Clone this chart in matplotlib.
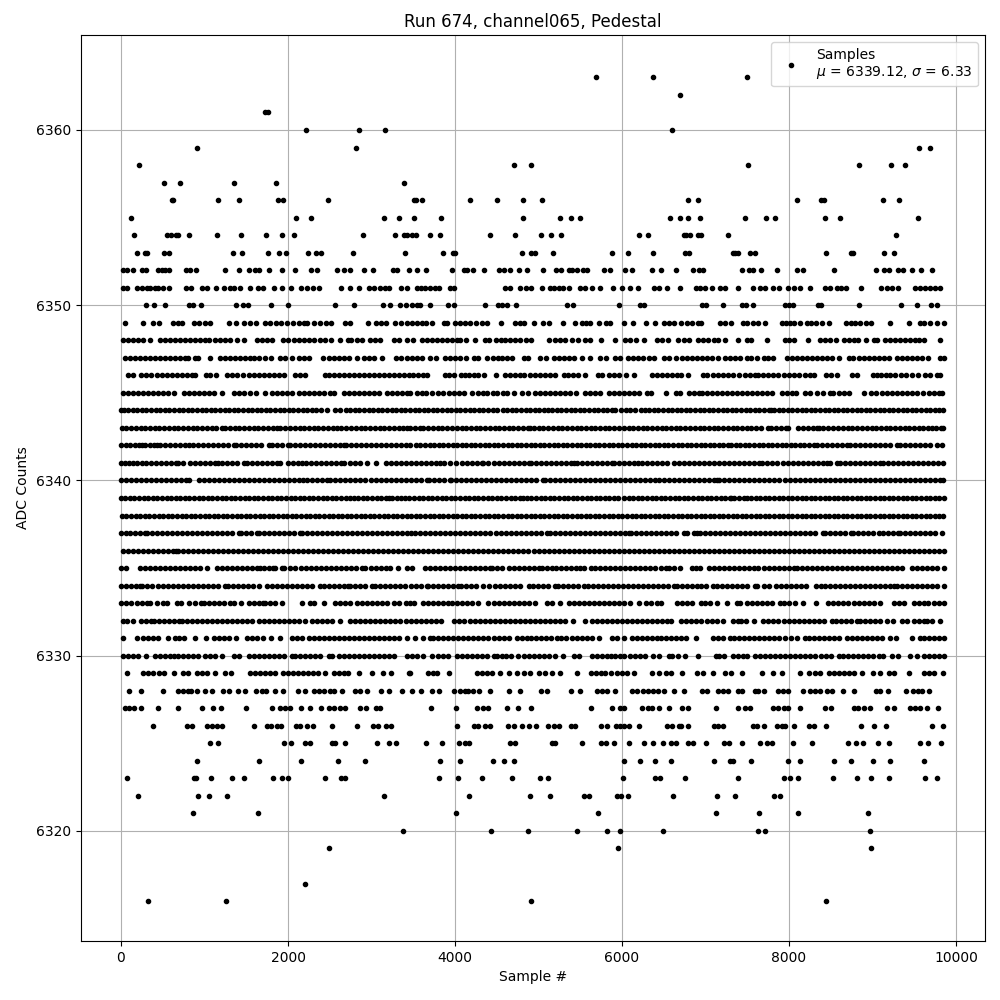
import matplotlib
matplotlib.use('Agg')
import matplotlib.pyplot as plt

# sample numbers, one list per ADC level
x6363 = [5693, 6375, 7501]
x6362 = [6699]
x6361 = [1720, 1760]
x6360 = [2212, 2848, 3160, 6603]
x6359 = [916, 2812, 9561, 9693]
x6358 = [220, 4708, 4912, 7513, 8842, 9226, 9394]
x6357 = [520, 712, 1348, 1852, 3388]
x6356 = [612, 628, 1156, 1408, 1876, 1936, 2476, 3508, 3532, 3604, 4180, 4504, 4816, 5038, 6794, 6914, 8100, 8383, 8423, 9130, 9321]
x6355 = [124, 2092, 2272, 3148, 3328, 3508, 3832, 4816, 5261, 5393, 5501, 6579, 6699, 6786, 6938, 7477, 7729, 7836, 8435, 8615, 9549]
x6354 = [160, 556, 604, 656, 680, 820, 1144, 1432, 1732, 1924, 2068, 2896, 3280, 3388, 3420, 3488, 3528, 3700, 3820, 4420, 4720, 5032, 5148, 5274, 6208, 6315, 6742, 6766, 6818, 6914, 6946, 7273, 9285]
x6353 = [188, 288, 308, 520, 572, 1336, 1444, 1756, 1888, 1972, 2236, 2332, 2392, 2776, 3400, 3856, 3976, 4000, 4804, 4908, 4960, 5178, 5884, 6076, 6375, 6754, 6806, 7325, 7353, 7393, 7537, 7597, 8447, 8738, 8770, 9142, 9262]
x6352 = [20, 68, 148, 256, 300, 448, 488, 528, 580, 780, 828, 900, 1240, 1408, 1528, 1608, 1656, 1768, 1924, 2080, 2276, 2348, 2588, 2676, 2740, 2916, 3016, 3260, 3308, 3448, 3541, 3657, 3969, 4109, 4141, 4221, 4353, 4521, 4589, 4661, 4761, 4861, 5053, 5213, 5269, 5361, 5401, 5461, 5529, 5581, 5789, 5861, 6041, 6121, 6361, 6469, 6645, 6849, 6926, 6966, 7434, 7526, 7574, 7666, 7854, 8094, 8162, 8542, 9042, 9134, 9194, 9302, 9366, 9474, 9578, 9718]
x6351 = [28, 76, 196, 256, 308, 348, 408, 448, 508, 580, 780, 840, 968, 1028, 1136, 1236, 1300, 1356, 1420, 1548, 1636, 1700, 1828, 1928, 2040, 2156, 2228, 2300, 2368, 2640, 2748, 2848, 2968, 3028, 3100, 3156, 3208, 3348, 3428, 3541, 3589, 3641, 3701, 3761, 3813, 3941, 3989, 4601, 4661, 4781, 4853, 4909, 5041, 5133, 5189, 5241, 5293, 5361, 5501, 5561, 5641, 5741, 5889, 6001, 6101, 6193, 6381, 6441, 6541, 6693, 6881, 6934, 6994, 7074, 7174, 7234, 7394, 7574, 7654, 7714, 7806, 7886, 7982, 8062, 8126, 8254, 8434, 8494, 8574, 8622, 8682, 8862, 9102, 9174, 9234, 9302, 9514, 9574, 9634, 9694, 9754, 9806]
x6350 = [300, 400, 532, 820, 868, 964, 1372, 1456, 1520, 1792, 1996, 2560, 2788, 3136, 3220, 3336, 3416, 3481, 3541, 3581, 3705, 3921, 3993, 4365, 4509, 4561, 4621, 4725, 5341, 5409, 5965, 6221, 6269, 6954, 7002, 7214, 7442, 7486, 7574, 7946, 7994, 8046, 8346, 8386, 8834, 9338, 9534, 9702, 9774]
x6349 = [48, 268, 388, 460, 628, 680, 728, 876, 940, 1000, 1060, 1296, 1380, 1476, 1540, 1620, 1728, 1788, 1856, 1916, 1988, 2060, 2128, 2188, 2228, 2316, 2388, 2460, 2520, 2688, 2740, 2956, 3048, 3108, 3168, 3276, 3348, 3428, 3481, 3541, 3601, 3653, 3729, 3869, 3901, 4001, 4061, 4121, 4181, 4253, 4321, 4389, 4553, 4721, 4773, 4829, 4941, 5053, 5121, 5289, 5441, 5521, 5573, 5621, 5721, 5813, 5853, 6021, 6129, 6293, 6393, 6501, 6561, 6621, 6709, 6781, 6841, 6914, 6946, 7174, 7234, 7302, 7446, 7502, 7566, 7634, 7718, 7914, 7966, 8014, 8062, 8126, 8214, 8262, 8326, 8394, 8474, 8686, 8742, 8794, 8854, 8926, 8982, 9214, 9434, 9566, 9622, 9686, 9774, 9858]
x6348 = [28, 88, 148, 208, 268, 348, 468, 528, 588, 648, 708, 768, 828, 888, 948, 1000, 1056, 1128, 1188, 1248, 1308, 1388, 1468, 1628, 1688, 1748, 1808, 1940, 2000, 2068, 2128, 2188, 2248, 2316, 2380, 2448, 2516, 2628, 2716, 2756, 2828, 2888, 2980, 3036, 3096, 3268, 3328, 3421, 3501, 3601, 3661, 3721, 3781, 3841, 3901, 3961, 4021, 4061, 4129, 4245, 4361, 4413, 4493, 4549, 4601, 4661, 4721, 4773, 4853, 4913, 5121, 5201, 5261, 5321, 5401, 5473, 5561, 5621, 5753, 5921, 6041, 6101, 6173, 6261, 6413, 6481, 6553, 6673, 6741, 6801, 6914, 6974, 7034, 7106, 7154, 7234, 7394, 7502, 7546, 7742, 7946, 7994, 8054, 8222, 8366, 8426, 8486, 8562, 8662, 8714, 8774, 8822, 8922, 9014, 9054, 9154, 9214, 9274, 9334, 9394, 9454, 9514, 9554, 9614, 9806]
x6347 = [48, 108, 168, 228, 288, 348, 408, 468, 528, 588, 648, 708, 768, 808, 888, 928, 1060, 1188, 1248, 1308, 1368, 1428, 1488, 1548, 1588, 1656, 1728, 1796, 1900, 1968, 2048, 2128, 2188, 2256, 2416, 2488, 2548, 2608, 2668, 2728, 2828, 2916, 2968, 3028, 3128, 3288, 3348, 3421, 3481, 3541, 3601, 3701, 3769, 3881, 3941, 4001, 4061, 4133, 4229, 4273, 4381, 4449, 4509, 4565, 4621, 4685, 4821, 4873, 5021, 5093, 5181, 5241, 5301, 5361, 5421, 5521, 5613, 5733, 5813, 5913, 5981, 6069, 6129, 6189, 6249, 6321, 6389, 6501, 6561, 6649, 6721, 6781, 6841, 6901, 6954, 7014, 7074, 7154, 7234, 7294, 7354, 7414, 7494, 7542, 7614, 7702, 7754, 7814, 7974, 8034, 8094, 8154, 8214, 8274, 8334, 8394, 8454, 8514, 8594, 8714, 8766, 8834, 8894, 8954, 9014, 9074, 9134, 9194, 9294, 9354, 9414, 9474, 9534, 9594, 9662, 9814, 9855]
x6346 = [88, 140, 236, 296, 356, 428, 488, 548, 608, 668, 728, 788, 848, 888, 1020, 1068, 1140, 1268, 1328, 1388, 1456, 1528, 1588, 1648, 1708, 1768, 1828, 1888, 1956, 2088, 2148, 2208, 2440, 2488, 2548, 2608, 2668, 2728, 2788, 2848, 2908, 2968, 3028, 3088, 3148, 3208, 3268, 3328, 3388, 3448, 3501, 3561, 3613, 3661, 3881, 3933, 3989, 4069, 4121, 4173, 4229, 4281, 4349, 4489, 4593, 4653, 4713, 4773, 4821, 4893, 4953, 5013, 5073, 5133, 5193, 5301, 5349, 5409, 5473, 5561, 5709, 5761, 5841, 5901, 5961, 6053, 6141, 6361, 6421, 6481, 6541, 6601, 6661, 6709, 6789, 6966, 7022, 7086, 7146, 7206, 7274, 7334, 7406, 7474, 7534, 7594, 7634, 7694, 7754, 7814, 7874, 7934, 7994, 8054, 8118, 8194, 8254, 8302, 8442, 8502, 8574, 8754, 8814, 9002, 9054, 9102, 9162, 9214, 9274, 9342, 9406, 9474, 9542, 9634, 9694, 9774, 9814]
x6345 = [20, 88, 148, 208, 268, 328, 388, 448, 508, 568, 640, 756, 816, 876, 936, 996, 1056, 1116, 1208, 1356, 1408, 1468, 1548, 1616, 1720, 1808, 1868, 1928, 1988, 2048, 2128, 2188, 2248, 2308, 2368, 2428, 2500, 2548, 2668, 2728, 2788, 2848, 2908, 2968, 3028, 3088, 3180, 3240, 3300, 3360, 3420, 3461, 3541, 3601, 3653, 3725, 3801, 3861, 3933, 3989, 4053, 4109, 4201, 4281, 4333, 4389, 4449, 4501, 4573, 4621, 4709, 4801, 4869, 4953, 5013, 5073, 5141, 5201, 5261, 5321, 5381, 5453, 5553, 5613, 5681, 5741, 5841, 5901, 5961, 6021, 6081, 6141, 6201, 6301, 6349, 6521, 6641, 6693, 6801, 6861, 6921, 6954, 7014, 7074, 7134, 7194, 7262, 7322, 7382, 7442, 7502, 7562, 7622, 7682, 7742, 7802, 7914, 7974, 8034, 8086, 8194, 8254, 8334, 8406, 8486, 8526, 8594, 8654, 8714, 8894, 8982, 9046, 9114, 9174, 9234, 9294, 9354, 9414, 9474, 9534, 9602, 9674, 9734, 9794, 9834]
x6344 = [0, 30, 85, 140, 195, 250, 305, 360, 415, 470, 525, 580, 635, 690, 745, 800, 855, 910, 965, 1020, 1075, 1130, 1185, 1240, 1295, 1350, 1405, 1460, 1515, 1570, 1625, 1680, 1735, 1790, 1845, 1900, 1955, 2010, 2065, 2120, 2175, 2230, 2285, 2340, 2400, 2468, 2560, 2620, 2690, 2745, 2800, 2855, 2910, 2965, 3020, 3075, 3130, 3185, 3240, 3295, 3350, 3405, 3460, 3515, 3570, 3625, 3680, 3735, 3790, 3845, 3900, 3955, 4010, 4065, 4120, 4175, 4230, 4285, 4340, 4395, 4450, 4505, 4570, 4625, 4680, 4735, 4790, 4845, 4900, 4955, 5010, 5060, 5110, 5165, 5220, 5275, 5330, 5385, 5440, 5495, 5550, 5605, 5660, 5715, 5770, 5825, 5880, 5915, 5990, 6045, 6100, 6155, 6230, 6270, 6325, 6380, 6435, 6490, 6545, 6600, 6655, 6710, 6765, 6820, 6875, 6930, 6985, 7040, 7095, 7150, 7205, 7260, 7315, 7370, 7425, 7480, 7535, 7590, 7645, 7700, 7755, 7790, 7820, 7875, 7930, 7985, 8040, 8095, 8150, 8205, 8260, 8315, 8370, 8425, 8480, 8535, 8590, 8645, 8700, 8755, 8810, 8865, 8920, 8975, 9030, 9085, 9140, 9195, 9250, 9305, 9360, 9415, 9470, 9525, 9580, 9635, 9690, 9745, 9800, 9850]
x6343 = [8, 65, 120, 178, 235, 290, 348, 405, 460, 518, 575, 630, 688, 745, 800, 858, 915, 970, 1028, 1085, 1140, 1208, 1248, 1305, 1360, 1418, 1475, 1530, 1588, 1645, 1700, 1758, 1815, 1868, 1910, 1968, 2025, 2080, 2138, 2195, 2250, 2308, 2365, 2420, 2478, 2535, 2590, 2640, 2700, 2758, 2815, 2870, 2928, 2985, 3040, 3098, 3155, 3210, 3268, 3325, 3380, 3420, 3461, 3521, 3581, 3621, 3680, 3738, 3795, 3850, 3908, 3965, 4020, 4078, 4135, 4190, 4248, 4305, 4360, 4418, 4475, 4530, 4588, 4645, 4700, 4758, 4815, 4870, 4901, 4941, 5000, 5058, 5115, 5170, 5228, 5285, 5340, 5398, 5455, 5510, 5568, 5625, 5680, 5738, 5795, 5850, 5908, 5965, 6020, 6078, 6135, 6190, 6248, 6305, 6360, 6418, 6475, 6530, 6588, 6645, 6700, 6758, 6815, 6870, 6928, 6985, 7040, 7098, 7155, 7210, 7268, 7325, 7380, 7438, 7495, 7550, 7608, 7665, 7750, 7790, 7850, 7908, 7965, 7990, 8110, 8170, 8228, 8285, 8340, 8354, 8410, 8470, 8530, 8590, 8648, 8705, 8760, 8818, 8875, 8930, 8988, 9045, 9100, 9158, 9215, 9270, 9328, 9385, 9440, 9498, 9555, 9610, 9668, 9710, 9760, 9820, 9850]
x6342 = [0, 55, 110, 165, 220, 250, 290, 350, 400, 430, 470, 530, 590, 650, 710, 770, 820, 860, 920, 980, 1040, 1100, 1160, 1220, 1280, 1350, 1380, 1440, 1500, 1560, 1620, 1680, 1770, 1810, 1870, 1930, 2000, 2020, 2080, 2140, 2200, 2260, 2320, 2380, 2440, 2500, 2560, 2620, 2670, 2690, 2750, 2810, 2870, 2930, 2990, 3050, 3110, 3170, 3230, 3290, 3350, 3410, 3461, 3529, 3585, 3640, 3695, 3750, 3805, 3860, 3915, 3970, 4025, 4080, 4135, 4190, 4245, 4300, 4355, 4410, 4465, 4520, 4575, 4630, 4685, 4740, 4795, 4850, 4905, 4960, 5015, 5070, 5125, 5180, 5235, 5290, 5345, 5400, 5455, 5510, 5565, 5620, 5675, 5730, 5785, 5840, 5895, 5950, 6005, 6060, 6115, 6170, 6225, 6280, 6335, 6390, 6445, 6500, 6555, 6610, 6665, 6720, 6775, 6830, 6885, 6940, 6995, 7050, 7105, 7160, 7215, 7270, 7310, 7360, 7415, 7470, 7525, 7580, 7635, 7690, 7745, 7800, 7855, 7910, 7965, 8020, 8075, 8130, 8185, 8240, 8295, 8340, 8394, 8454, 8514, 8574, 8634, 8690, 8734, 8790, 8850, 8910, 8970, 9030, 9090, 9150, 9210, 9290, 9334, 9394, 9454, 9514, 9566, 9626, 9686, 9774, 9838]
x6341 = [0, 48, 100, 148, 196, 248, 296, 356, 416, 476, 536, 596, 656, 688, 740, 828, 888, 948, 1008, 1068, 1128, 1156, 1208, 1268, 1328, 1388, 1468, 1508, 1568, 1628, 1688, 1748, 1808, 1868, 1908, 2000, 2060, 2120, 2168, 2216, 2276, 2336, 2396, 2456, 2516, 2576, 2636, 2668, 2740, 2800, 2860, 2948, 3056, 3168, 3228, 3288, 3348, 3408, 3468, 3533, 3589, 3649, 3709, 3769, 3821, 3869, 3941, 4013, 4081, 4141, 4201, 4261, 4321, 4341, 4401, 4461, 4521, 4581, 4641, 4701, 4761, 4821, 4881, 4909, 4969, 5029, 5089, 5149, 5209, 5269, 5329, 5389, 5421, 5461, 5521, 5581, 5641, 5701, 5761, 5821, 5881, 5901, 5961, 6021, 6081, 6141, 6189, 6241, 6301, 6361, 6421, 6481, 6541, 6621, 6681, 6741, 6801, 6861, 6921, 6981, 7041, 7101, 7161, 7221, 7281, 7341, 7401, 7461, 7521, 7581, 7641, 7674, 7742, 7802, 7862, 7922, 7982, 8046, 8106, 8166, 8226, 8286, 8346, 8406, 8454, 8494, 8574, 8606, 8666, 8726, 8786, 8846, 8906, 8966, 9026, 9094, 9126, 9186, 9246, 9306, 9366, 9426, 9486, 9546, 9606, 9666, 9726, 9786, 9850]
x6340 = [0, 60, 120, 180, 240, 300, 360, 420, 480, 540, 600, 660, 720, 780, 820, 930, 990, 1050, 1110, 1170, 1230, 1290, 1350, 1410, 1470, 1530, 1590, 1650, 1710, 1770, 1830, 1890, 1950, 2010, 2070, 2130, 2180, 2228, 2288, 2348, 2408, 2468, 2508, 2568, 2628, 2688, 2748, 2808, 2868, 2928, 2988, 3048, 3108, 3168, 3228, 3288, 3348, 3408, 3468, 3528, 3588, 3669, 3693, 3753, 3813, 3873, 3941, 3953, 4013, 4073, 4133, 4193, 4253, 4313, 4373, 4433, 4493, 4553, 4613, 4673, 4733, 4793, 4853, 4913, 4973, 5053, 5081, 5141, 5201, 5261, 5321, 5381, 5441, 5501, 5561, 5621, 5681, 5741, 5801, 5861, 5921, 5981, 6041, 6101, 6161, 6221, 6281, 6341, 6401, 6441, 6501, 6561, 6621, 6681, 6741, 6801, 6861, 6921, 6981, 7041, 7101, 7134, 7166, 7226, 7286, 7346, 7406, 7466, 7526, 7586, 7646, 7706, 7766, 7826, 7886, 7946, 8006, 8066, 8126, 8186, 8246, 8306, 8366, 8426, 8486, 8546, 8606, 8666, 8726, 8786, 8846, 8906, 8966, 9026, 9086, 9146, 9206, 9266, 9326, 9386, 9446, 9506, 9566, 9626, 9686, 9746, 9806, 9850]
x6339 = [0, 50, 105, 160, 215, 270, 325, 380, 435, 490, 545, 600, 655, 710, 765, 820, 875, 930, 985, 1040, 1095, 1150, 1205, 1260, 1315, 1370, 1425, 1480, 1535, 1590, 1645, 1700, 1755, 1810, 1865, 1920, 1975, 2030, 2085, 2140, 2195, 2250, 2305, 2360, 2415, 2470, 2525, 2580, 2635, 2690, 2745, 2790, 2840, 2895, 2950, 3005, 3060, 3115, 3170, 3210, 3245, 3300, 3355, 3405, 3455, 3510, 3565, 3620, 3675, 3730, 3785, 3840, 3895, 3950, 4005, 4060, 4115, 4170, 4225, 4280, 4335, 4390, 4445, 4500, 4555, 4610, 4665, 4720, 4775, 4810, 4860, 4915, 4970, 5025, 5080, 5135, 5190, 5245, 5300, 5355, 5410, 5465, 5520, 5575, 5630, 5685, 5740, 5795, 5850, 5905, 5950, 6025, 6080, 6135, 6190, 6245, 6300, 6355, 6410, 6465, 6520, 6575, 6630, 6685, 6740, 6795, 6850, 6905, 6960, 7015, 7070, 7125, 7180, 7235, 7290, 7310, 7345, 7400, 7455, 7500, 7545, 7600, 7655, 7710, 7765, 7820, 7875, 7930, 7985, 8040, 8095, 8150, 8205, 8260, 8315, 8370, 8425, 8480, 8535, 8590, 8645, 8700, 8755, 8810, 8865, 8920, 8975, 9030, 9085, 9140, 9195, 9250, 9305, 9360, 9415, 9470, 9525, 9580, 9635, 9690, 9745, 9800, 9856]
x6338 = [10, 65, 120, 175, 230, 285, 340, 395, 450, 505, 560, 615, 670, 725, 780, 835, 890, 945, 1000, 1055, 1110, 1165, 1220, 1275, 1330, 1385, 1440, 1495, 1550, 1605, 1660, 1715, 1770, 1825, 1880, 1935, 1990, 2045, 2100, 2155, 2210, 2265, 2320, 2375, 2430, 2485, 2540, 2595, 2650, 2705, 2760, 2815, 2870, 2925, 2980, 3035, 3090, 3145, 3200, 3255, 3310, 3365, 3420, 3475, 3530, 3585, 3640, 3695, 3750, 3805, 3860, 3915, 3970, 4025, 4080, 4135, 4190, 4245, 4300, 4355, 4410, 4465, 4520, 4575, 4630, 4685, 4740, 4795, 4850, 4905, 4960, 5015, 5070, 5125, 5180, 5235, 5290, 5345, 5400, 5455, 5510, 5565, 5620, 5675, 5730, 5785, 5840, 5895, 5950, 6005, 6060, 6115, 6170, 6225, 6280, 6335, 6390, 6445, 6500, 6555, 6610, 6665, 6720, 6775, 6830, 6885, 6940, 6995, 7050, 7105, 7160, 7215, 7270, 7325, 7380, 7435, 7490, 7545, 7600, 7655, 7710, 7765, 7820, 7875, 7930, 7985, 8040, 8095, 8150, 8205, 8260, 8315, 8370, 8425, 8480, 8535, 8590, 8645, 8700, 8755, 8810, 8865, 8920, 8975, 9030, 9085, 9140, 9195, 9250, 9305, 9360, 9415, 9470, 9525, 9580, 9635, 9690, 9745, 9800, 9845]
x6337 = [0, 55, 110, 170, 230, 288, 308, 368, 428, 488, 548, 608, 668, 728, 788, 848, 908, 968, 1028, 1088, 1148, 1208, 1268, 1328, 1408, 1436, 1496, 1556, 1628, 1648, 1708, 1768, 1828, 1888, 1948, 2008, 2068, 2148, 2168, 2228, 2288, 2348, 2408, 2468, 2528, 2588, 2648, 2708, 2768, 2828, 2888, 2948, 3008, 3068, 3128, 3188, 3248, 3308, 3368, 3428, 3468, 3525, 3585, 3645, 3705, 3765, 3825, 3885, 3945, 4005, 4065, 4125, 4185, 4245, 4305, 4365, 4425, 4485, 4545, 4605, 4665, 4725, 4785, 4845, 4905, 4965, 5025, 5101, 5141, 5201, 5261, 5321, 5381, 5441, 5501, 5561, 5621, 5681, 5741, 5801, 5861, 5921, 5981, 6041, 6081, 6109, 6169, 6229, 6289, 6349, 6409, 6469, 6529, 6589, 6649, 6741, 6773, 6861, 6901, 6934, 6994, 7054, 7114, 7174, 7234, 7294, 7354, 7414, 7474, 7534, 7594, 7654, 7714, 7774, 7834, 7894, 7954, 8014, 8074, 8134, 8194, 8254, 8314, 8402, 8434, 8494, 8554, 8614, 8674, 8742, 8766, 8826, 8886, 8946, 9006, 9074, 9122, 9182, 9242, 9302, 9334, 9394, 9454, 9514, 9574, 9634, 9694, 9754, 9834]
x6336 = [28, 85, 145, 205, 265, 325, 385, 445, 505, 565, 625, 656, 680, 740, 800, 860, 920, 980, 1040, 1100, 1160, 1220, 1280, 1340, 1400, 1460, 1520, 1580, 1640, 1700, 1760, 1820, 1880, 1940, 2000, 2060, 2120, 2180, 2240, 2300, 2360, 2420, 2480, 2540, 2600, 2660, 2720, 2780, 2840, 2900, 2960, 3020, 3080, 3140, 3200, 3260, 3320, 3380, 3440, 3500, 3560, 3620, 3680, 3740, 3800, 3860, 3920, 3980, 4040, 4100, 4160, 4220, 4280, 4340, 4400, 4460, 4520, 4580, 4640, 4700, 4760, 4820, 4880, 4940, 5000, 5060, 5120, 5180, 5240, 5300, 5360, 5420, 5480, 5540, 5600, 5660, 5720, 5780, 5840, 5900, 5960, 6020, 6080, 6140, 6200, 6260, 6320, 6380, 6440, 6500, 6560, 6620, 6680, 6740, 6800, 6860, 6920, 6980, 7040, 7100, 7160, 7220, 7280, 7340, 7400, 7460, 7520, 7580, 7640, 7700, 7760, 7820, 7880, 7940, 8000, 8060, 8120, 8180, 8240, 8300, 8360, 8420, 8480, 8540, 8600, 8660, 8720, 8780, 8840, 8900, 8960, 9020, 9080, 9140, 9200, 9260, 9320, 9380, 9440, 9500, 9560, 9620, 9680, 9740, 9800, 9855]
x6335 = [0, 56, 228, 288, 348, 408, 468, 528, 588, 648, 708, 768, 828, 888, 948, 1028, 1148, 1208, 1268, 1328, 1388, 1448, 1508, 1568, 1628, 1668, 1708, 1768, 1820, 1848, 1928, 1956, 2020, 2088, 2156, 2216, 2276, 2336, 2396, 2456, 2516, 2576, 2636, 2696, 2756, 2816, 2888, 2920, 2996, 3056, 3116, 3176, 3220, 3316, 3428, 3481, 3641, 3701, 3761, 3821, 3881, 3941, 4001, 4061, 4121, 4181, 4241, 4301, 4361, 4421, 4441, 4501, 4561, 4641, 4701, 4761, 4821, 4881, 4941, 5001, 5041, 5101, 5161, 5213, 5269, 5329, 5389, 5449, 5501, 5541, 5629, 5681, 5741, 5801, 5861, 5921, 5981, 6041, 6101, 6161, 6221, 6281, 6341, 6401, 6461, 6521, 6561, 6621, 6693, 6841, 6886, 6934, 7046, 7102, 7162, 7222, 7282, 7342, 7402, 7462, 7522, 7582, 7634, 7702, 7762, 7822, 7882, 7942, 8002, 8062, 8094, 8154, 8214, 8274, 8334, 8394, 8454, 8514, 8574, 8634, 8694, 8754, 8814, 8874, 8934, 8994, 9054, 9114, 9174, 9234, 9294, 9354, 9474, 9534, 9594, 9654, 9714, 9774, 9856]
x6334 = [0, 60, 120, 180, 228, 256, 316, 376, 448, 500, 560, 620, 680, 740, 800, 860, 920, 980, 1040, 1100, 1160, 1248, 1276, 1336, 1396, 1456, 1516, 1576, 1648, 1748, 1808, 1868, 1928, 1988, 2048, 2108, 2168, 2228, 2288, 2388, 2428, 2488, 2548, 2608, 2668, 2716, 2748, 2808, 2868, 2928, 3008, 3040, 3100, 3160, 3220, 3280, 3340, 3400, 3468, 3528, 3588, 3661, 3681, 3741, 3801, 3861, 3921, 3981, 4041, 4069, 4129, 4189, 4249, 4341, 4413, 4473, 4533, 4593, 4653, 4713, 4773, 4881, 4929, 4989, 5049, 5109, 5201, 5229, 5289, 5349, 5409, 5469, 5549, 5589, 5649, 5709, 5769, 5829, 5889, 5949, 6009, 6069, 6129, 6189, 6249, 6309, 6369, 6429, 6489, 6549, 6621, 6661, 6721, 6781, 6841, 6901, 6941, 7001, 7086, 7142, 7202, 7262, 7322, 7382, 7442, 7502, 7594, 7614, 7702, 7766, 7846, 7906, 7966, 8026, 8086, 8146, 8202, 8326, 8386, 8434, 8486, 8546, 8606, 8666, 8726, 8786, 8846, 8906, 8966, 9026, 9086, 9146, 9206, 9254, 9294, 9354, 9414, 9474, 9534, 9594, 9654, 9714, 9774, 9856]
x6333 = [0, 60, 120, 196, 248, 308, 348, 428, 508, 556, 668, 720, 820, 888, 956, 996, 1056, 1116, 1176, 1236, 1308, 1352, 1432, 1528, 1588, 1648, 1696, 1728, 1788, 1848, 1928, 2164, 2268, 2316, 2428, 2568, 2628, 2688, 2748, 2828, 2888, 2948, 3008, 3068, 3128, 3188, 3268, 3328, 3408, 3461, 3509, 3621, 3681, 3741, 3801, 3861, 3921, 3961, 4021, 4081, 4141, 4201, 4281, 4401, 4461, 4521, 4581, 4641, 4701, 4761, 4821, 4881, 4961, 5101, 5161, 5261, 5361, 5421, 5481, 5541, 5601, 5661, 5721, 5781, 5841, 5901, 5961, 6021, 6101, 6201, 6293, 6353, 6413, 6469, 6661, 6721, 6781, 6841, 6941, 6994, 7054, 7134, 7254, 7374, 7414, 7502, 7562, 7622, 7682, 7742, 7802, 7894, 7942, 8002, 8074, 8166, 8326, 8462, 8526, 8586, 8646, 8706, 8774, 8834, 8894, 8954, 9014, 9094, 9254, 9314, 9374, 9494, 9554, 9614, 9662, 9734, 9794, 9860]
x6332 = [20, 68, 140, 236, 296, 356, 396, 456, 516, 580, 640, 700, 728, 788, 848, 908, 968, 1028, 1088, 1148, 1208, 1268, 1328, 1388, 1448, 1508, 1568, 1648, 1708, 1768, 1828, 1888, 1948, 2008, 2068, 2128, 2208, 2288, 2348, 2408, 2468, 2528, 2620, 2740, 2800, 2860, 2920, 2980, 3040, 3100, 3160, 3220, 3280, 3340, 3408, 3468, 3529, 3589, 3649, 3709, 3773, 3837, 3993, 4053, 4113, 4181, 4241, 4301, 4361, 4421, 4481, 4541, 4601, 4661, 4721, 4781, 4841, 4901, 4961, 5021, 5081, 5141, 5201, 5261, 5321, 5413, 5561, 5641, 5701, 5761, 5821, 5881, 5941, 6001, 6061, 6121, 6181, 6241, 6301, 6361, 6421, 6481, 6541, 6589, 6701, 6761, 6821, 6881, 6941, 7014, 7074, 7134, 7214, 7326, 7394, 7422, 7482, 7582, 7694, 7754, 7814, 7874, 7934, 7994, 8054, 8114, 8174, 8234, 8294, 8354, 8414, 8514, 8566, 8626, 8686, 8746, 8814, 8846, 8906, 8966, 9026, 9086, 9174, 9242, 9354, 9414, 9494, 9554, 9614, 9654, 9714, 9806]
x6331 = [28, 196, 260, 320, 380, 448, 568, 648, 700, 756, 892, 1016, 1108, 1168, 1228, 1288, 1380, 1508, 1568, 1628, 1700, 1800, 1908, 2048, 2108, 2168, 2248, 2308, 2368, 2428, 2488, 2548, 2608, 2668, 2728, 2788, 2848, 2908, 2968, 3028, 3088, 3148, 3208, 3268, 3328, 3428, 3525, 3621, 3701, 3741, 3801, 3861, 3921, 3981, 4041, 4101, 4161, 4221, 4281, 4333, 4393, 4461, 4521, 4581, 4641, 4741, 4801, 4861, 4909, 4969, 5029, 5089, 5149, 5221, 5269, 5329, 5401, 5461, 5521, 5581, 5641, 5721, 5881, 5941, 6029, 6121, 6181, 6241, 6301, 6361, 6421, 6469, 6529, 6589, 6649, 6709, 6769, 6881, 7086, 7146, 7206, 7294, 7342, 7402, 7462, 7522, 7582, 7642, 7702, 7766, 7826, 7886, 7946, 8022, 8094, 8194, 8242, 8302, 8362, 8422, 8482, 8542, 8602, 8694, 8754, 8814, 8874, 8934, 8994, 9054, 9114, 9214, 9278, 9474, 9574, 9614, 9674, 9734, 9794, 9856]
x6330 = [28, 88, 148, 208, 300, 408, 468, 528, 588, 636, 688, 748, 808, 868, 928, 1000, 1068, 1128, 1208, 1348, 1408, 1528, 1588, 1648, 1708, 1768, 1828, 1888, 1948, 2048, 2088, 2148, 2208, 2268, 2328, 2388, 2488, 2528, 2608, 2668, 2728, 2788, 2848, 2908, 2968, 3028, 3088, 3148, 3208, 3268, 3428, 3481, 3549, 3613, 3721, 3801, 3861, 3921, 4021, 4081, 4141, 4201, 4261, 4321, 4381, 4461, 4501, 4561, 4613, 4669, 4749, 4829, 4889, 4949, 5009, 5069, 5121, 5201, 5289, 5421, 5489, 5641, 5701, 5761, 5821, 5869, 5921, 5981, 6029, 6101, 6161, 6221, 6281, 6373, 6441, 6561, 6601, 6669, 6753, 6909, 7126, 7166, 7226, 7326, 7386, 7446, 7502, 7594, 7654, 7714, 7774, 7834, 7894, 7954, 8014, 8074, 8134, 8194, 8254, 8314, 8382, 8442, 8502, 8594, 8646, 8706, 8766, 8826, 8886, 8946, 9006, 9074, 9122, 9234, 9302, 9454, 9534, 9614, 9674, 9734, 9794, 9854]
x6329 = [76, 268, 328, 388, 452, 516, 636, 740, 808, 908, 968, 1028, 1120, 1240, 1316, 1548, 1608, 1668, 1728, 1780, 1848, 1940, 2000, 2060, 2120, 2180, 2240, 2300, 2360, 2448, 2548, 2608, 2668, 2716, 2848, 3008, 3136, 3228, 3448, 3461, 3681, 3741, 3781, 3933, 4261, 4321, 4381, 4441, 4541, 4641, 4741, 4829, 4893, 5001, 5081, 5161, 5253, 5461, 5629, 5689, 5749, 5801, 5869, 5941, 6001, 6061, 6141, 6361, 6441, 6521, 6589, 6721, 6901, 6966, 7094, 7234, 7302, 7434, 7674, 7814, 7914, 8126, 8234, 8314, 8374, 8474, 8534, 8594, 8654, 8714, 8774, 8874, 9006, 9086, 9194, 9254, 9434, 9622, 9678, 9734, 9846]
x6328 = [100, 236, 508, 680, 740, 800, 840, 908, 1000, 1088, 1216, 1288, 1396, 1480, 1616, 1688, 1740, 1848, 1940, 2116, 2208, 2316, 2372, 2428, 2500, 2556, 2648, 2808, 2868, 2948, 3108, 3208, 3368, 3489, 3593, 3721, 3813, 3993, 4061, 4121, 4161, 4221, 4293, 4425, 4641, 4773, 5033, 5101, 5389, 5493, 5701, 5761, 5821, 5921, 6121, 6181, 6253, 6313, 6373, 6433, 6501, 6621, 6741, 6962, 7022, 7154, 7214, 7274, 7394, 7442, 7594, 7634, 7702, 7874, 7922, 7982, 8162, 8254, 8314, 8374, 8454, 8514, 8642, 8774, 9038, 9094, 9182, 9402, 9486, 9540, 9594, 9674]
x6327 = [48, 100, 156, 236, 448, 680, 968, 1096, 1192, 1500, 1804, 1908, 1968, 2028, 2156, 2268, 2392, 2488, 2556, 2628, 2688, 2860, 2936, 3048, 3100, 3717, 4017, 4269, 4341, 4401, 4617, 4749, 4913, 5629, 5877, 5973, 6021, 6241, 6309, 6361, 6441, 6561, 6713, 6789, 7126, 7394, 7474, 7534, 7814, 7874, 7934, 7982, 8126, 8434, 8502, 8774, 8822, 8894, 8966, 9174, 9254, 9446, 9514, 9574, 9654, 9782]
x6326 = [388, 796, 848, 1028, 1088, 1148, 1208, 1588, 1748, 1796, 1868, 1920, 2100, 2148, 2228, 2300, 2524, 2824, 3016, 3080, 3168, 3228, 4029, 4229, 4281, 4365, 4421, 4629, 4701, 4797, 4881, 4965, 5109, 5189, 5241, 5389, 5441, 5745, 5817, 5933, 5981, 6029, 6081, 6201, 6533, 6601, 6681, 6709, 6789, 7102, 7154, 7214, 7574, 7614, 7706, 7854, 7914, 7954, 8054, 8234, 8302, 8438, 8862, 9014, 9158, 9714, 9842]
x6325 = [1060, 1156, 1948, 2032, 2208, 2268, 2528, 2568, 2680, 3064, 3208, 3292, 3657, 3849, 4053, 4121, 4169, 4653, 4721, 5161, 5201, 5517, 5745, 5809, 5901, 6081, 6261, 6373, 6489, 6589, 6645, 6789, 6845, 7010, 7226, 7286, 7442, 7658, 7742, 7794, 8042, 8270, 8702, 8798, 8882, 9062, 9194, 9566, 9662, 9818]
x6324 = [916, 1648, 2152, 2596, 2920, 3825, 4065, 4449, 4581, 4709, 6021, 6213, 6393, 6585, 7106, 7294, 7334, 7550, 7982, 8126, 8534, 8738, 9002, 9206, 9614]
x6323 = [76, 876, 896, 1072, 1324, 1468, 1816, 1924, 1996, 2440, 2632, 2680, 3808, 4036, 4324, 4684, 5020, 5116, 6016, 6399, 6459, 6759, 7393, 7944, 8016, 8112, 8531, 8818, 8986, 9201, 9633, 9776]
x6322 = [208, 928, 1048, 1264, 3148, 4168, 4900, 5136, 5549, 5609, 5944, 5992, 6076, 6615, 7142, 7357, 7824, 7896]
x6321 = [868, 1636, 4012, 5717, 7130, 7645, 8112, 8950]
x6320 = [3376, 4432, 4876, 5465, 5824, 5980, 6495, 7633, 7717, 8974]
x6319 = [2488, 5956, 8986]
x6317 = [2200]
x6316 = [328, 1252, 4912, 8447]

levels = [6363, 6362, 6361, 6360, 6359, 6358, 6357, 6356, 6355, 6354, 6353, 6352, 6351, 6350,
          6349, 6348, 6347, 6346, 6345, 6344, 6343, 6342, 6341, 6340, 6339, 6338, 6337, 6336,
          6335, 6334, 6333, 6332, 6331, 6330, 6329, 6328, 6327, 6326, 6325, 6324, 6323, 6322,
          6321, 6320, 6319, 6317, 6316]
rows = [x6363, x6362, x6361, x6360, x6359, x6358, x6357, x6356, x6355, x6354, x6353, x6352, x6351, x6350,
        x6349, x6348, x6347, x6346, x6345, x6344, x6343, x6342, x6341, x6340, x6339, x6338, x6337, x6336,
        x6335, x6334, x6333, x6332, x6331, x6330, x6329, x6328, x6327, x6326, x6325, x6324, x6323, x6322,
        x6321, x6320, x6319, x6317, x6316]

samples = []
counts = []
for level, row in zip(levels, rows):
    samples.extend(row)
    counts.extend([level] * len(row))

fig, ax = plt.subplots(figsize=(10, 10))
ax.plot(samples, counts, 'k.', label='Samples\n$\\mu$ = 6339.12, $\\sigma$ = 6.33')
ax.set_xlim(-479, 10347)
ax.set_ylim(6313.72, 6365.42)
ax.set_xlabel('Sample #')
ax.set_ylabel('ADC Counts')
ax.set_title('Run 674, channel065, Pedestal')
ax.grid(True)
ax.legend(loc='upper right')
fig.subplots_adjust(left=0.081, right=0.985, top=0.965, bottom=0.059)
fig.savefig('out.png', dpi=100)
